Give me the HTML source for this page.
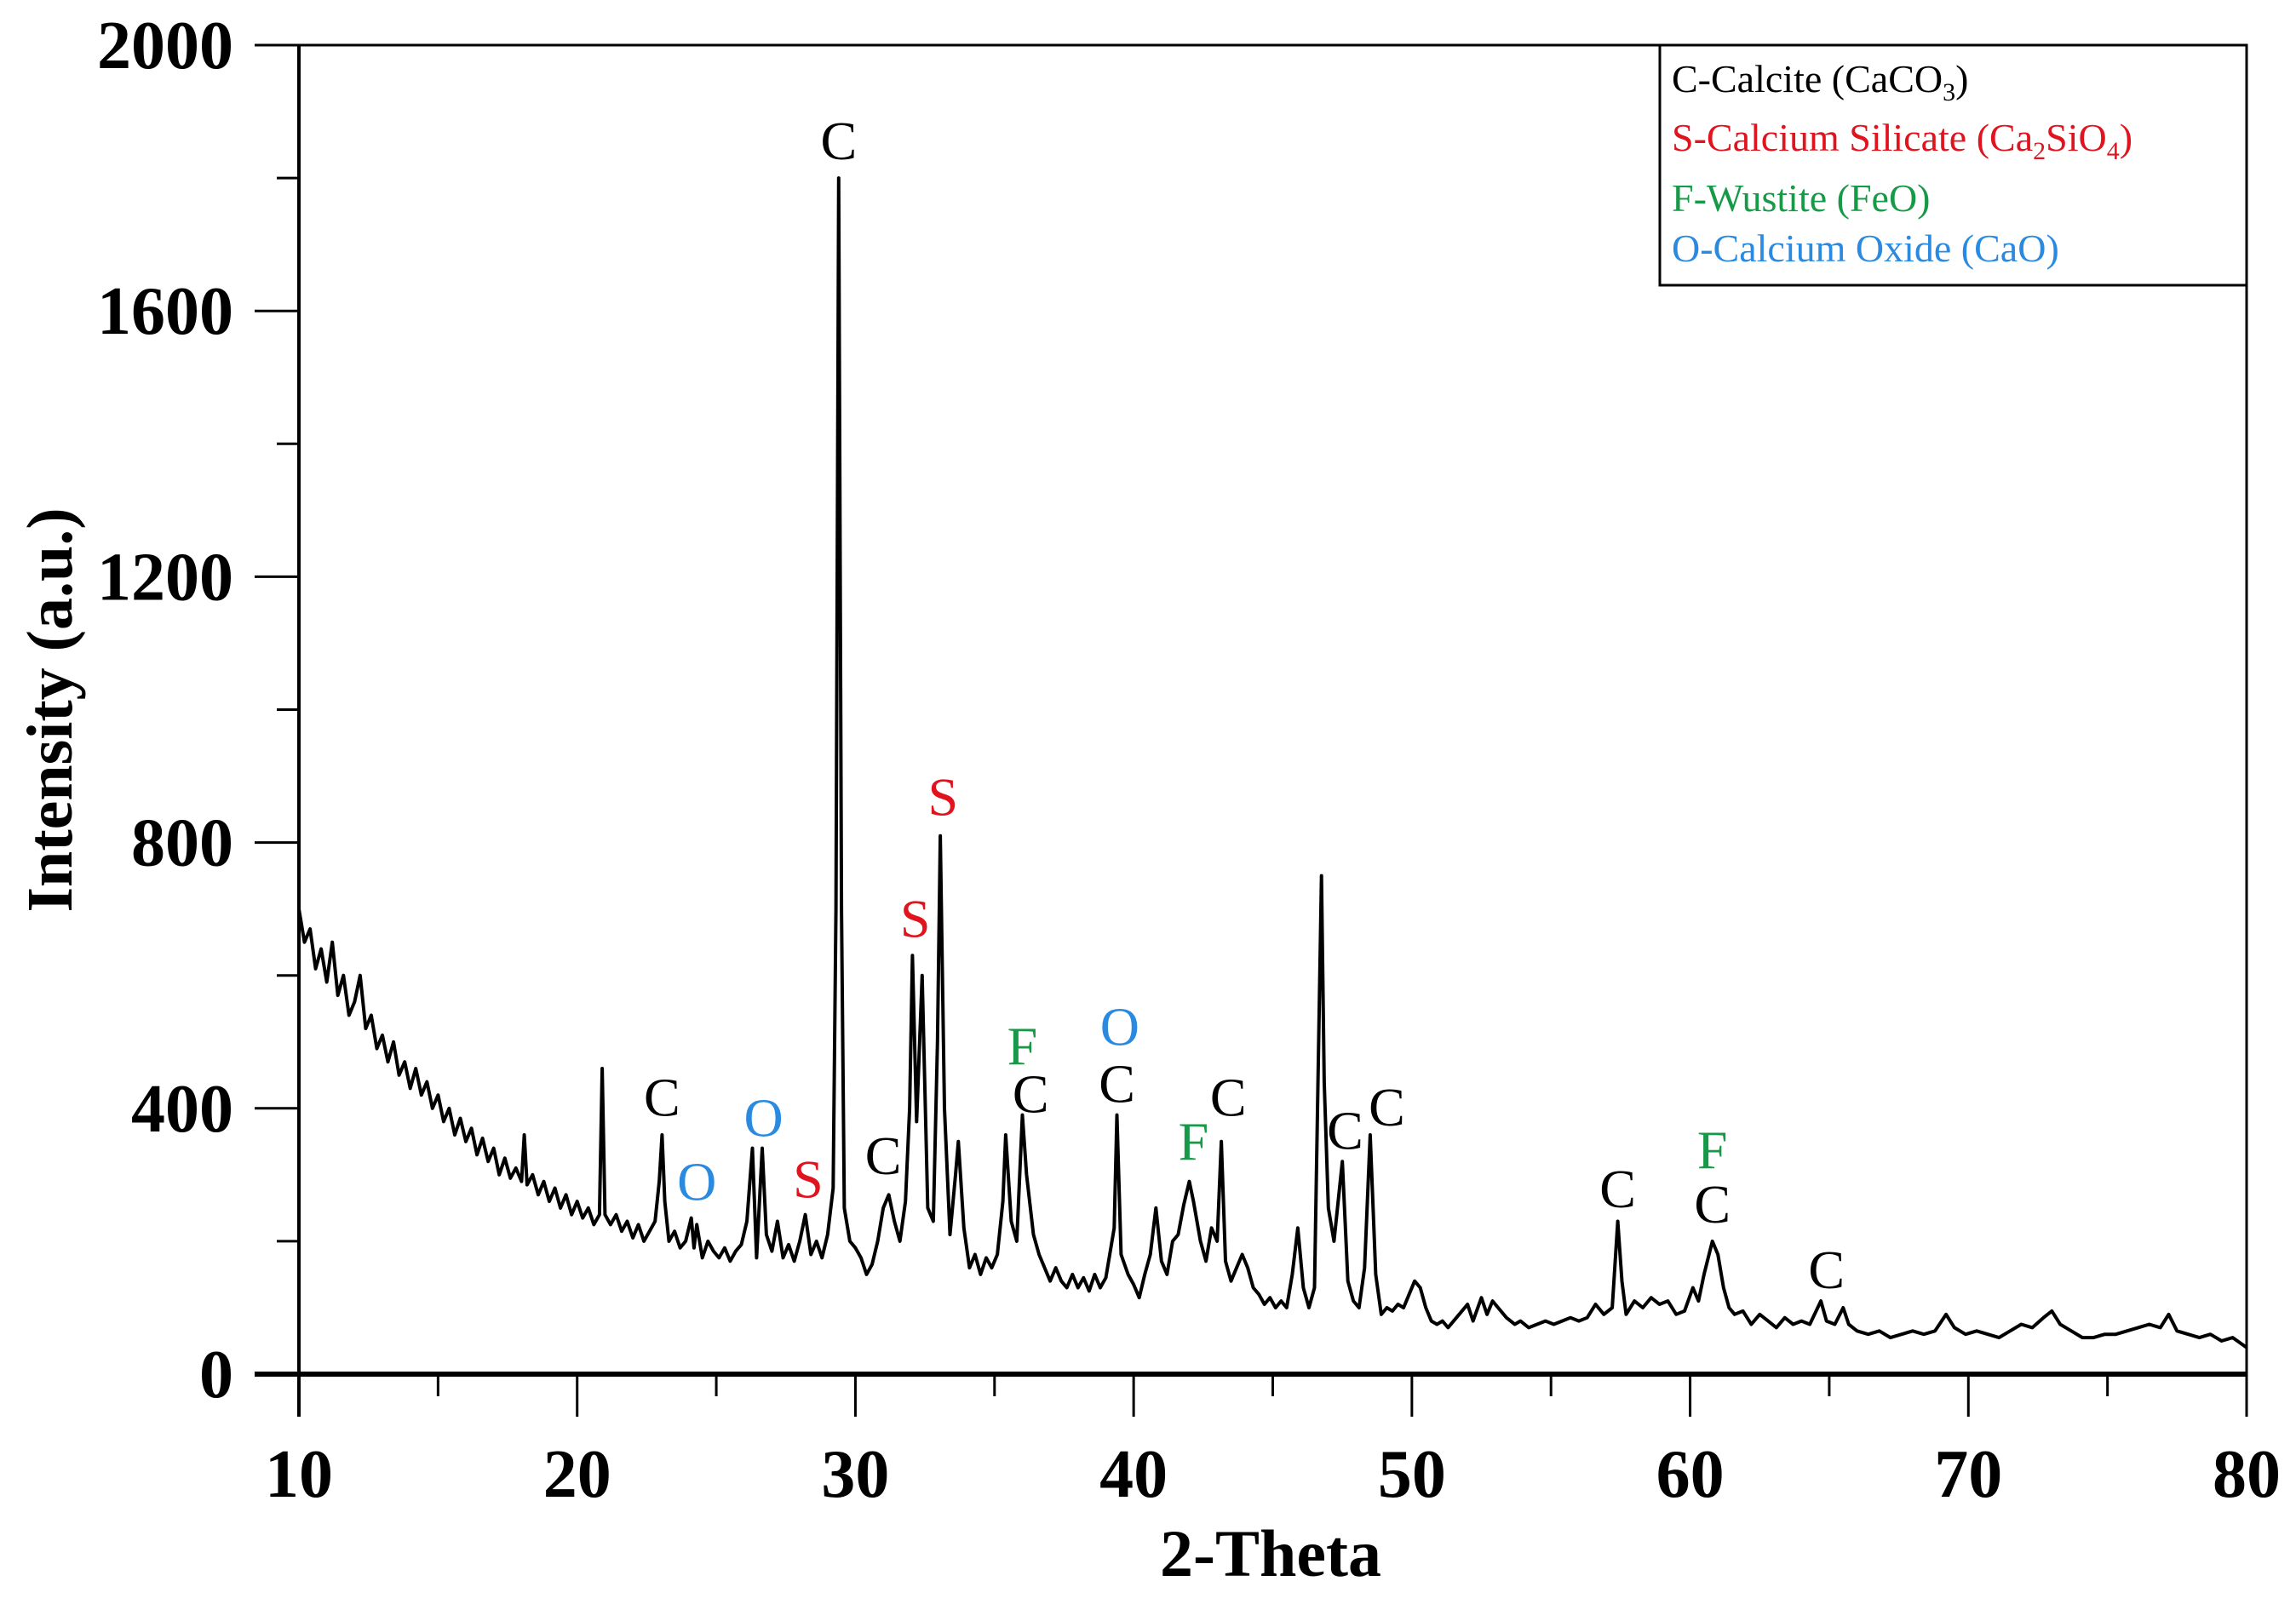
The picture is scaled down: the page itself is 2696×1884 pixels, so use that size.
<!DOCTYPE html>
<html><head><meta charset="utf-8"><style>
html,body{margin:0;padding:0;background:#fff}
svg{display:block}
svg text{font-family:"Liberation Serif","Tinos","Times New Roman","DejaVu Serif",serif !important}
</style></head><body>
<svg id="chart" width="2696" height="1884" viewBox="0 0 2696 1884" xmlns="http://www.w3.org/2000/svg">
<g id="axes"></g>
<g id="series"></g>
<g id="labels"></g>
<g id="legend">
  <rect x="1949" y="53" width="689" height="282" fill="#fff" stroke="#000" stroke-width="3"/>
  <text x="1963" y="108" font-size="46" fill="#000">C-Calcite (CaCO<tspan font-size="30" dy="10">3</tspan><tspan dy="-10">)</tspan></text>
  <text x="1963" y="177" font-size="46" fill="#e0141e">S-Calcium Silicate (Ca<tspan font-size="30" dy="10">2</tspan><tspan dy="-10">SiO</tspan><tspan font-size="30" dy="10">4</tspan><tspan dy="-10">)</tspan></text>
  <text x="1963" y="248" font-size="46" fill="#179a48">F-Wustite (FeO)</text>
  <text x="1963" y="307" font-size="46" fill="#2a8ae0">O-Calcium Oxide (CaO)</text>
</g>
</svg>
<script>
const xVals=[10.0,10.2,10.4,10.6,10.8,11.0,11.2,11.4,11.6,11.8,12.0,12.2,12.4,12.6,12.8,13.0,13.2,13.4,13.6,13.8,14.0,14.2,14.4,14.6,14.8,15.0,15.2,15.4,15.6,15.8,16.0,16.2,16.4,16.6,16.8,17.0,17.2,17.4,17.6,17.8,18.0,18.1,18.2,18.4,18.6,18.8,19.0,19.2,19.4,19.6,19.8,20.0,20.2,20.4,20.6,20.8,20.9,21.0,21.2,21.4,21.6,21.8,22.0,22.2,22.4,22.6,22.8,22.95,23.05,23.15,23.3,23.5,23.7,23.9,24.1,24.2,24.3,24.5,24.7,24.9,25.1,25.3,25.5,25.7,25.9,26.1,26.3,26.45,26.65,26.8,27.0,27.2,27.4,27.6,27.8,28.0,28.2,28.4,28.6,28.8,29.0,29.2,29.3,29.4,29.5,29.6,29.8,30.0,30.2,30.4,30.6,30.8,31.0,31.2,31.4,31.6,31.8,31.95,32.05,32.2,32.4,32.6,32.8,32.95,33.05,33.2,33.4,33.6,33.7,33.9,34.1,34.3,34.5,34.7,34.9,35.1,35.3,35.4,35.6,35.8,36.0,36.15,36.4,36.6,36.8,37.0,37.2,37.4,37.6,37.8,38.0,38.2,38.4,38.6,38.8,39.0,39.3,39.4,39.55,39.8,40.0,40.2,40.4,40.6,40.8,41.0,41.2,41.4,41.6,41.8,42.0,42.15,42.4,42.6,42.8,43.0,43.15,43.3,43.5,43.7,43.9,44.1,44.3,44.5,44.7,44.9,45.1,45.3,45.5,45.7,45.9,46.1,46.3,46.5,46.75,46.85,47.0,47.2,47.5,47.7,47.9,48.1,48.3,48.5,48.7,48.9,49.1,49.3,49.5,49.7,49.9,50.1,50.3,50.5,50.7,50.9,51.1,51.3,51.5,51.7,52.0,52.2,52.5,52.7,52.9,53.1,53.4,53.7,53.9,54.2,54.5,54.8,55.1,55.4,55.7,56.0,56.3,56.6,56.9,57.2,57.4,57.55,57.7,58.0,58.3,58.6,58.9,59.2,59.5,59.8,60.1,60.3,60.5,60.8,61.0,61.2,61.4,61.6,61.9,62.2,62.5,62.8,63.1,63.4,63.7,64.0,64.3,64.7,64.9,65.2,65.5,65.7,66.0,66.4,66.8,67.2,67.6,68.0,68.4,68.8,69.2,69.5,69.9,70.3,70.7,71.1,71.5,71.9,72.3,72.7,73.0,73.3,73.7,74.1,74.5,74.9,75.3,75.7,76.1,76.5,76.9,77.2,77.5,77.9,78.3,78.7,79.1,79.5,80.0];
const intensity=[700,650,670,610,640,590,650,570,600,540,560,600,520,540,490,510,470,500,450,470,430,460,420,440,400,420,380,400,360,385,350,370,330,355,320,340,300,325,295,310,290,360,285,300,270,290,260,280,250,270,240,260,235,250,225,240,460,240,225,240,215,230,205,225,200,215,230,290,360,260,200,215,190,200,235,190,225,175,200,185,175,190,170,185,195,230,340,175,340,210,185,230,175,195,170,200,240,180,200,175,210,280,700,1800,700,250,200,190,175,150,165,200,250,270,230,200,260,400,630,380,600,250,230,500,810,400,210,300,350,220,160,180,150,175,160,180,260,360,230,200,390,300,210,180,160,140,160,140,130,150,130,145,125,150,130,145,220,390,180,150,135,115,150,180,250,170,150,200,210,255,290,260,200,170,220,200,350,170,140,160,180,160,130,120,105,115,100,110,100,150,220,130,100,130,750,440,250,200,320,140,110,100,160,360,150,90,100,95,105,100,120,140,130,100,80,75,80,70,80,90,105,80,115,90,110,100,85,75,80,70,75,80,75,80,85,80,85,105,90,100,230,140,90,110,100,115,105,110,90,95,130,110,150,200,180,130,100,90,95,75,90,80,70,85,75,80,75,110,80,75,100,75,65,60,65,55,60,65,60,65,90,70,60,65,60,55,65,75,70,85,95,75,65,55,55,60,60,65,70,75,70,90,65,60,55,60,50,55,40];
const xTicks=[10,20,30,40,50,60,70,80];
const yTicks=[0,400,800,1200,1600,2000];
const labelText=["C","S","S","F","C","O","C","F","C","C","C","C","O","O","S","C","C","F","C","C"];
const labelX=[29.4,33.15,32.15,36.0,36.3,39.5,39.4,42.15,43.4,47.6,49.1,23.05,24.3,26.7,28.3,31.0,57.4,60.8,60.8,64.9];
const labelY=[1855,868,685,493,421,522,436,350,416,366,401,416,289,385,293,328,278,337,255,156];
const phaseColor={C:"#000",S:"#e0141e",F:"#179a48",O:"#2a8ae0"};

const L=351,R=2638,T=53,B=1614;
const X=v=>L+(v-10)/70*(R-L);
const Y=v=>B-v/2000*(B-T);
const NS="http://www.w3.org/2000/svg";
function mk(tag,attrs,parent,txt){const e=document.createElementNS(NS,tag);for(const k in attrs)e.setAttribute(k,attrs[k]);if(txt!==undefined)e.textContent=txt;parent.appendChild(e);return e;}

const ax=document.getElementById('axes');
let fr=mk('rect',{x:L,y:T,width:R-L,height:B-T,fill:'none',stroke:'#000','stroke-width':3},ax);


let xl=mk('line',{x1:L-52,y1:B,x2:R,y2:B,stroke:'#000','stroke-width':6},ax);


let yl=mk('line',{x1:L,y1:T,x2:L,y2:B+50,stroke:'#000','stroke-width':4},ax);


for(let v=10;v<=80;v+=5){
  const major=v%10===0;
  const t=mk('line',{x1:X(v),y1:B,x2:X(v),y2:B+(major?50:26),stroke:'#000','stroke-width':3},ax);
  
  
}
xTicks.forEach(v=>{
  const t=mk('text',{x:X(v),y:1758,'font-size':80,'font-weight':'bold','text-anchor':'middle'},ax,String(v));
  
  
});
for(let v=0;v<=2000;v+=200){
  const major=v%400===0;
  const t=mk('line',{x1:L-(major?52:26),y1:Y(v),x2:L,y2:Y(v),stroke:'#000','stroke-width':3},ax);
  
  
}
yTicks.forEach(v=>{
  const t=mk('text',{x:274,y:Y(v)+27,'font-size':80,'font-weight':'bold','text-anchor':'end'},ax,String(v));
  
  
});
let xt=mk('text',{x:1492,y:1851,'font-size':78,'font-weight':'bold','text-anchor':'middle'},ax,'2-Theta');


let yt=mk('text',{x:0,y:0,'font-size':76,'font-weight':'bold','text-anchor':'middle',transform:'translate(84,834) rotate(-90)'},ax,'Intensity (a.u.)');



const sr=document.getElementById('series');
let d='';
xVals.forEach((x,i)=>{d+=(i?'L':'M')+X(x).toFixed(1)+','+Y(intensity[i]).toFixed(1);});
let p=mk('path',{d:d,fill:'none',stroke:'#000','stroke-width':4,'stroke-linejoin':'round'},sr);



const lb=document.getElementById('labels');
labelText.forEach((c,i)=>{
  const t=mk('text',{x:X(labelX[i]),y:Y(labelY[i])+21,'font-size':64,'text-anchor':'middle',fill:phaseColor[c]},lb,c);
  
  
});
</script>
</body></html>
